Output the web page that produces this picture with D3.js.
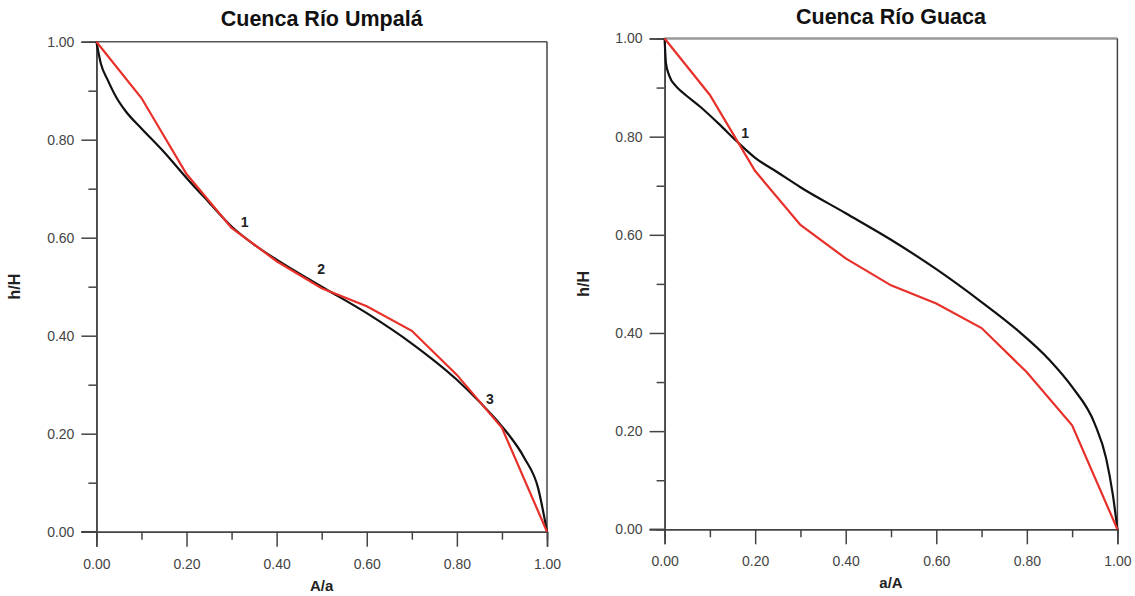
<!DOCTYPE html>
<html>
<head>
<meta charset="utf-8">
<script src="https://cdn.jsdelivr.net/npm/d3@7"></script>
<style>
  body { margin: 0; background: #fff; }
  text { font-family: "Liberation Sans", Arial, sans-serif; }
</style>
</head>
<body>
<script>
var width = 1135;
var height = 596;

// reference curve (red), same for both basins
var refX = [0, 0.1, 0.2, 0.3, 0.4, 0.5, 0.6, 0.7, 0.8, 0.9, 1.0];
var refY = [1.0, 0.885, 0.73, 0.62, 0.552, 0.497, 0.46, 0.41, 0.32, 0.212, 0.0];

// hypsometric curve, Cuenca Rio Umpala
var umpalaX = [0, 0.01, 0.025, 0.045, 0.065, 0.1, 0.15, 0.2, 0.25, 0.3, 0.35, 0.4, 0.5,
               0.6, 0.7, 0.8, 0.85, 0.9, 0.95, 0.98, 1.0];
var umpalaY = [1.0, 0.955, 0.922, 0.885, 0.858, 0.823, 0.775, 0.722, 0.672, 0.623, 0.586, 0.555, 0.5,
               0.446, 0.384, 0.31, 0.265, 0.215, 0.15, 0.09, 0.0];

// hypsometric curve, Cuenca Rio Guaca
var guacaX = [0, 0.003, 0.01, 0.025, 0.04, 0.08, 0.12, 0.16, 0.2, 0.25, 0.3, 0.4, 0.5,
              0.6, 0.7, 0.78, 0.85, 0.9, 0.95, 0.975, 0.99, 1.0];
var guacaY = [1.0, 0.95, 0.925, 0.903, 0.89, 0.86, 0.826, 0.79, 0.757, 0.727, 0.697, 0.644, 0.59,
              0.53, 0.463, 0.405, 0.345, 0.29, 0.215, 0.145, 0.07, 0.0];

var majorTicks = [0, 0.2, 0.4, 0.6, 0.8, 1.0];
var minorTicks = [0.1, 0.3, 0.5, 0.7, 0.9];

var umpalaMarks = [{label: "1", x: 0.329, y: 0.622}, {label: "2", x: 0.499, y: 0.526}, {label: "3", x: 0.873, y: 0.261}];
var guacaMarks = [{label: "1", x: 0.178, y: 0.797}];

var svg = d3.select("body").append("svg")
    .attr("width", width)
    .attr("height", height);

function zip(xs, ys) {
    return xs.map(function(x, i) { return [x, ys[i]]; });
}

function drawPanel(cfg) {
    var xScale = d3.scaleLinear().domain([0, 1]).range([cfg.left, cfg.right]);
    var yScale = d3.scaleLinear().domain([0, 1]).range([cfg.bottom, cfg.top]);
    var g = svg.append("g");
    var fmt = d3.format(".2f");

    // frame top and right
    g.append("line")
        .attr("x1", xScale(0)).attr("x2", xScale(1))
        .attr("y1", yScale(1)).attr("y2", yScale(1))
        .attr("stroke", cfg.topColor).attr("stroke-width", cfg.topWidth);
    g.append("line")
        .attr("x1", xScale(1)).attr("x2", xScale(1))
        .attr("y1", yScale(1)).attr("y2", yScale(0))
        .attr("stroke", "#444").attr("stroke-width", 1.5);

    // minor ticks
    g.append("g")
        .attr("transform", "translate(0," + yScale(0) + ")")
        .call(d3.axisBottom(xScale).tickValues(minorTicks).tickSize(8).tickFormat(""))
        .call(styleAxis);
    g.append("g")
        .attr("transform", "translate(" + xScale(0) + ",0)")
        .call(d3.axisLeft(yScale).tickValues(minorTicks).tickSize(8).tickFormat(""))
        .call(styleAxis);

    // major axes
    g.append("g")
        .attr("transform", "translate(0," + yScale(0) + ")")
        .call(d3.axisBottom(xScale).tickValues(majorTicks).tickSize(15).tickPadding(12).tickFormat(fmt))
        .call(styleAxis);
    g.append("g")
        .attr("transform", "translate(" + xScale(0) + ",0)")
        .call(d3.axisLeft(yScale).tickValues(majorTicks).tickSize(15).tickPadding(7).tickFormat(fmt))
        .call(styleAxis);

    // x axis line extends to the y tick end
    g.append("line")
        .attr("x1", xScale(0) - 15).attr("x2", xScale(0))
        .attr("y1", yScale(0)).attr("y2", yScale(0))
        .attr("stroke", "#444").attr("stroke-width", 1.5);

    var line = d3.line()
        .x(function(d) { return xScale(d[0]); })
        .y(function(d) { return yScale(d[1]); });

    g.append("path")
        .datum(zip(cfg.curveX, cfg.curveY))
        .attr("d", line.curve(d3.curveMonotoneX))
        .attr("fill", "none")
        .attr("stroke", "#111")
        .attr("stroke-width", 2.2);

    g.append("path")
        .datum(zip(refX, refY))
        .attr("d", line.curve(d3.curveLinear))
        .attr("fill", "none")
        .attr("stroke", "#e8302a")
        .attr("stroke-width", 2.2);

    g.selectAll(".mark")
        .data(cfg.marks)
        .enter().append("text")
        .attr("x", function(d) { return xScale(d.x); })
        .attr("y", function(d) { return yScale(d.y); })
        .attr("text-anchor", "middle")
        .attr("font-size", 14)
        .attr("font-weight", "bold")
        .attr("fill", "#222")
        .text(function(d) { return d.label; });

    g.append("text")
        .attr("x", (cfg.left + cfg.right) / 2)
        .attr("y", cfg.titleY)
        .attr("text-anchor", "middle")
        .attr("font-size", 21.5)
        .attr("font-weight", "bold")
        .attr("fill", "#111")
        .text(cfg.title);

    g.append("text")
        .attr("x", (cfg.left + cfg.right) / 2)
        .attr("y", cfg.bottom + 59)
        .attr("text-anchor", "middle")
        .attr("font-size", 15)
        .attr("font-weight", "bold")
        .attr("fill", "#222")
        .text(cfg.xTitle);

    g.append("text")
        .attr("transform", "translate(" + (cfg.left - 76) + "," + ((cfg.top + cfg.bottom) / 2) + ") rotate(-90)")
        .attr("text-anchor", "middle")
        .attr("font-size", 16)
        .attr("font-weight", "bold")
        .attr("fill", "#222")
        .text("h/H");
}

function styleAxis(sel) {
    sel.select(".domain").attr("stroke", "#444").attr("stroke-width", 1.5);
    sel.selectAll(".tick line").attr("stroke", "#444").attr("stroke-width", 1.5);
    sel.selectAll(".tick text").attr("font-size", 14).attr("fill", "#444")
        .attr("font-family", "'Liberation Sans', Arial, sans-serif");
}

drawPanel({
    left: 96.4, right: 547, top: 41.7, bottom: 531.7,
    title: "Cuenca Río Umpalá", titleY: 26, xTitle: "A/a",
    curveX: umpalaX, curveY: umpalaY, marks: umpalaMarks,
    topColor: "#555", topWidth: 1.5
});

drawPanel({
    left: 664.6, right: 1117.4, top: 38.5, bottom: 529.3,
    title: "Cuenca Río Guaca", titleY: 23.5, xTitle: "a/A",
    curveX: guacaX, curveY: guacaY, marks: guacaMarks,
    topColor: "#999", topWidth: 2.5
});
</script>
</body>
</html>
